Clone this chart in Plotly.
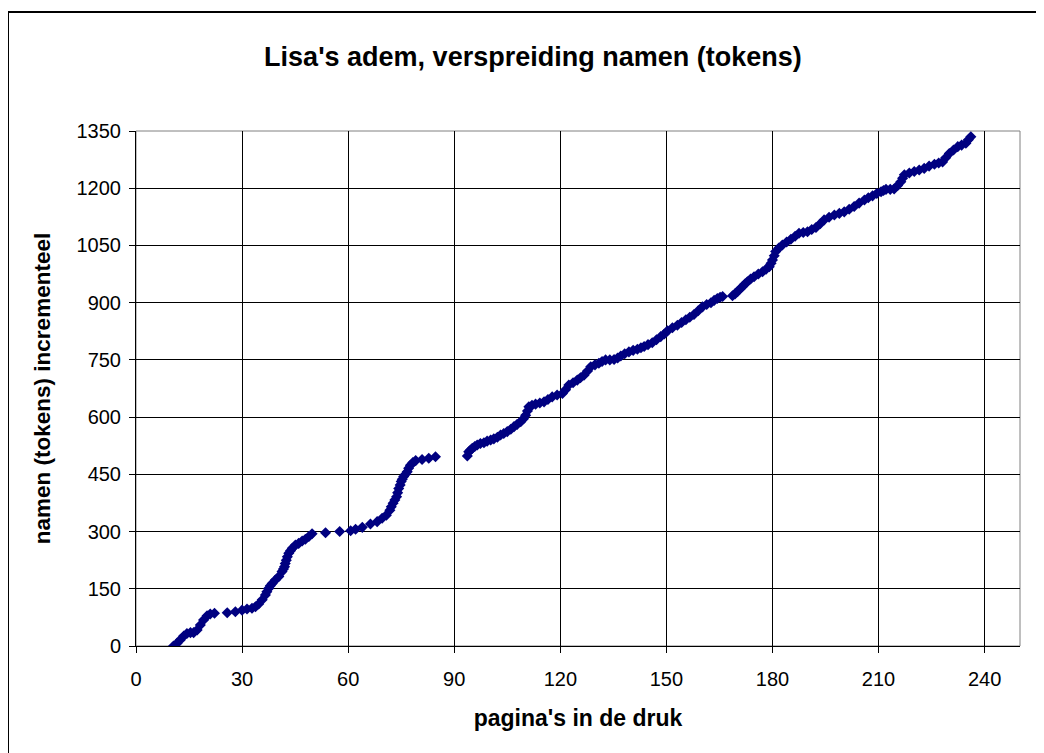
import plotly.graph_objects as go

# page numbers (x) and cumulative name tokens (y)
pages = [10.6, 11.6, 12.5, 13.5, 14.4, 15.4, 16.3, 17.3, 18.2, 19.1, 20.1, 21.0, 22.2,
         25.8, 28.1, 30.0, 31.4, 32.8, 33.8, 34.7, 35.7, 36.6, 37.0, 37.5, 38.0, 38.5,
         39.4, 40.4, 41.3, 41.7, 42.0, 42.2, 42.5, 42.8, 43.2, 43.7, 44.2, 45.1, 46.0,
         47.0, 47.9, 48.9, 49.8,
         53.6, 57.6, 60.7, 62.1, 64.0, 66.3, 68.2, 69.6, 70.8, 71.8, 72.2, 72.7, 73.2,
         73.7, 74.0, 74.3, 74.7, 75.0, 75.3, 75.7, 76.2, 76.7, 77.1, 77.6, 78.3, 79.1,
         80.9, 82.8, 84.7,
         93.7, 94.1, 94.6, 95.1, 95.8, 96.5, 97.4, 98.4, 99.3, 100.3, 101.2, 102.2,
         103.1, 104.0, 105.0, 106.0, 106.9, 107.8, 108.8, 109.6, 110.2, 110.7, 111.1,
         112.0, 113.0, 114.2, 115.4, 116.5, 117.7, 119.1, 120.6, 121.5, 122.4, 123.6,
         124.8, 125.7, 126.7, 127.7, 128.6, 129.8, 130.9, 131.8, 132.8, 134.0, 135.2,
         136.2, 137.1, 138.2, 139.4, 140.6, 141.8, 142.8, 143.7, 144.8, 146.0, 147.2,
         148.4, 149.4, 150.3, 151.7, 153.1, 154.3, 155.5, 156.6, 157.8, 159.0, 160.2,
         161.4, 162.6, 163.5, 164.4, 165.2, 165.9,
         168.7, 169.4, 170.1, 170.8, 171.5, 172.2, 172.9, 173.8, 174.8, 176.0, 177.2,
         178.2, 179.1, 179.6, 180.0, 180.5, 180.9, 181.8, 182.8, 184.0, 185.2, 186.4,
         187.5, 188.7, 189.9, 191.1, 192.3, 193.5, 194.6, 196.0, 197.5, 198.9, 200.3,
         201.7, 203.1, 204.5, 206.0, 207.1, 208.3, 209.5, 210.7, 211.4, 212.1, 213.3,
         214.4, 215.4, 216.3, 216.8, 217.3, 218.7, 220.1, 221.5, 222.9, 224.3, 225.8,
         227.0, 228.1, 229.0, 230.0, 231.2, 232.4, 233.5, 234.7, 235.4, 236.1]
tokens = [0, 7, 16, 26, 33, 35, 35, 42, 55, 68, 79, 84, 86,
          87, 90, 94, 97, 99, 103, 110, 121, 134, 142, 151, 158, 164,
          173, 182, 195, 202, 208, 216, 225, 234, 243, 250, 256, 265, 269,
          275, 280, 287, 294,
          297, 300, 302, 306, 311, 320, 326, 335, 343, 356, 365, 374, 383,
          391, 402, 413, 422, 431, 437, 444, 450, 457, 466, 474, 481, 486,
          489, 492, 496,
          498, 509, 514, 518, 523, 527, 531, 533, 537, 540, 543, 547,
          553, 557, 562, 568, 575, 581, 588, 596, 605, 616, 627,
          631, 634, 637, 640, 646, 653, 658, 662, 672, 684, 690,
          697, 703, 710, 721, 732, 737, 741, 746, 750, 750, 751,
          755, 760, 766, 771, 775, 778, 782, 785, 790, 795, 803,
          811, 818, 826, 834, 841, 848, 855, 862, 869, 879, 889,
          895, 900, 906, 911, 914, 916,
          918, 923, 929, 936, 942, 949, 955, 962, 968, 975, 981,
          988, 994, 1003, 1012, 1023, 1034, 1043, 1051, 1059, 1066, 1074,
          1082, 1084, 1086, 1092, 1097, 1107, 1117, 1124, 1130, 1134, 1138,
          1145, 1152, 1161, 1169, 1175, 1180, 1186, 1191, 1194, 1197, 1197,
          1198, 1207, 1217, 1226, 1235, 1240, 1244, 1248, 1252, 1258, 1263,
          1266, 1269, 1280, 1291, 1300, 1309, 1313, 1318, 1327, 1335]

title_text = "Lisa's adem, verspreiding namen (tokens)"
x_title = "pagina's in de druk"
y_title = "namen (tokens) incrementeel"
x_ticks = [0, 30, 60, 90, 120, 150, 180, 210, 240]
y_ticks = [0, 150, 300, 450, 600, 750, 900, 1050, 1200, 1350]

FONT = "Liberation Sans, Arial, sans-serif"

fig = go.Figure()
fig.add_trace(go.Scatter(
    x=pages, y=tokens, mode="markers",
    marker=dict(symbol="diamond", color="#000080", size=8.5, line=dict(width=0)),
    showlegend=False, hoverinfo="x+y"))

fig.update_layout(
    width=1044, height=753,
    margin=dict(l=128, r=32, t=123, b=115),
    paper_bgcolor="white", plot_bgcolor="white",
    font=dict(family=FONT, color="black", size=20),
    title=dict(text="<b>" + title_text + "</b>", x=0.449, xref="paper",
               xanchor="center", y=0.935, yanchor="middle",
               font=dict(size=27, family=FONT, color="black")),
    xaxis=dict(range=[0, 250], tickvals=x_ticks, showgrid=True, gridcolor="black",
               gridwidth=1, zeroline=False, showline=True, linecolor="black",
               linewidth=1, ticks="outside", ticklen=6, tickcolor="black",
               ticklabelstandoff=9,
               tickfont=dict(size=20, family=FONT),
               title=dict(text="<b>" + x_title + "</b>", standoff=20,
                          font=dict(size=23, family=FONT))),
    yaxis=dict(range=[0, 1350], tickvals=y_ticks, showgrid=True, gridcolor="black",
               gridwidth=1, zeroline=False, showline=True, linecolor="black",
               linewidth=1, ticks="outside", ticklen=6, tickcolor="black",
               ticklabelstandoff=4,
               tickfont=dict(size=20, family=FONT),
               title=dict(text="<b>" + y_title + "</b>", standoff=19,
                          font=dict(size=22.5, family=FONT))),
    shapes=[
        dict(type="rect", xref="paper", yref="paper", x0=0, x1=1, y0=0, y1=1,
             line=dict(color="#808080", width=1), layer="below"),
        dict(type="rect", xref="paper", yref="paper", x0=-0.1448, x1=1.1,
             y0=-0.3, y1=1.2311, line=dict(color="black", width=2), layer="below"),
    ],
)

fig.write_html("out.html")
